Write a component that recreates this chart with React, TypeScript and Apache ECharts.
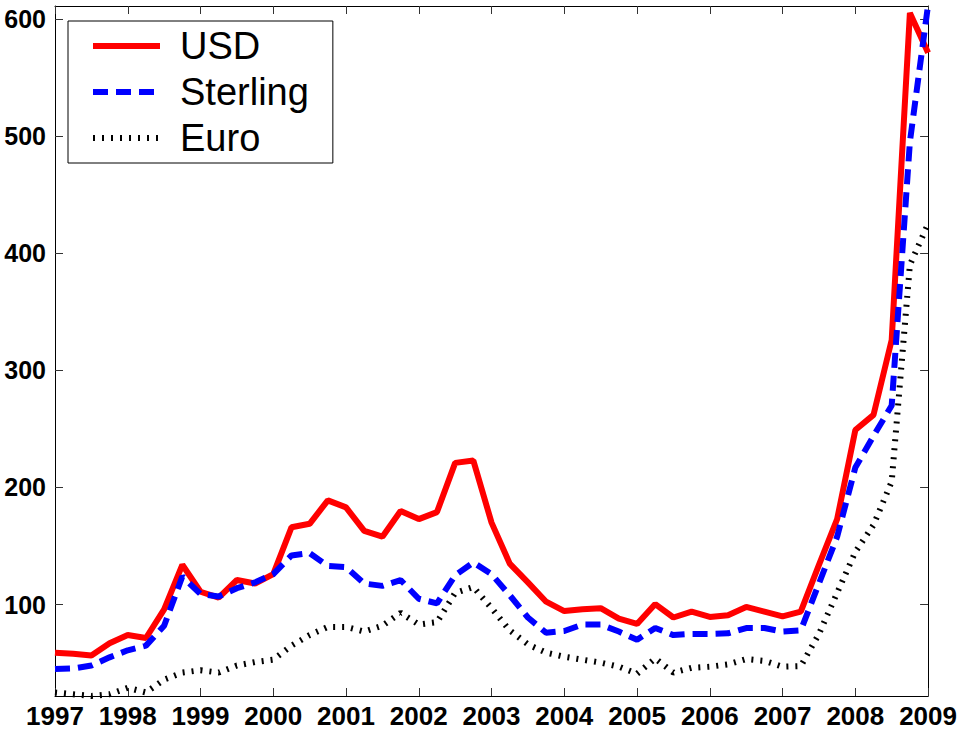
import React, { useEffect, useRef } from "react";
import * as echarts from "echarts";

const startYear = 1997;
const stepsPerYear = 4;

const usd = [
  59, 58, 56.5, 67, 74, 71.5, 96, 134,
  111, 106, 121, 118, 126, 166, 169, 189,
  183, 163, 158, 180, 173, 179, 221, 223,
  170, 135, 119, 102.5, 94.5, 96, 97, 88,
  83.5, 100.5, 89, 94, 89.5, 91, 98, 94,
  90, 94, 134, 173, 249, 262, 326, 605,
  571,
];

const sterling = [
  45, 45.5, 48, 55, 61, 65, 82, 124,
  109, 107, 114, 119, 126, 142, 144, 133,
  132, 118, 116, 121, 105, 101, 125, 136,
  126, 108, 89, 76, 77.5, 83, 83, 77,
  70, 80, 74, 75, 75, 75.5, 80, 80,
  77, 78, 118, 158, 217, 244, 270, 495,
  612,
];

const euro = [
  25, 23.5, 22, 23.5, 29, 25, 36, 42,
  44, 42, 48, 51, 53, 65, 74, 81,
  81, 77, 82, 93, 83, 85, 110, 115,
  97, 78, 66, 59, 55.5, 53, 50.5, 47,
  41, 54, 42, 46, 47, 49, 53.5, 52,
  47, 47.5, 75, 110, 145, 168, 205, 390,
  425,
];

const yearMin = 1997;
const yearMax = 2009;
const valueMin = 22;
const valueMax = 611;
const valueTicks = [100, 200, 300, 400, 500, 600];

const FONT = "'Liberation Sans', Arial, Helvetica, sans-serif";

function toPairs(vals: number[]) {
  return vals.map((v, i) => [startYear + i / stepsPerYear, v]);
}

export default function App() {
  const ref = useRef<HTMLDivElement>(null);

  useEffect(() => {
    if (!ref.current) return;
    const chart = echarts.init(ref.current, undefined, { renderer: "svg" });

    const axisLine = { show: true, onZero: false, lineStyle: { color: "#000", width: 1 } };
    const tickStyle = { color: "#333", width: 1 };

    const option = {
      animation: false,
      backgroundColor: "#fff",
      grid: { left: 55, right: 31, top: 6, bottom: 36, containLabel: false },
      legend: {
        orient: "vertical",
        left: 68,
        top: 21,
        padding: [6, 24, 6, 22],
        itemGap: 8,
        itemWidth: 67,
        itemHeight: 14,
        borderColor: "#000",
        borderWidth: 1,
        backgroundColor: "#fff",
        itemStyle: { opacity: 0, borderWidth: 0 },
        lineStyle: { width: 6 },
        textStyle: {
          fontSize: 38,
          lineHeight: 38,
          color: "#000",
          fontFamily: FONT,
          padding: [0, 0, 0, 15],
        },
        data: ["USD", "Sterling", "Euro"],
      },
      xAxis: [
        {
          type: "value",
          min: yearMin,
          max: yearMax,
          interval: 1,
          position: "bottom",
          axisLine,
          axisTick: { show: true, inside: true, length: 8, lineStyle: tickStyle },
          axisLabel: {
            show: true,
            fontSize: 26,
            fontWeight: "bold",
            color: "#000",
            fontFamily: FONT,
            margin: 7,
            formatter: (v: number) => String(v),
          },
          splitLine: { show: false },
        },
        {
          type: "value",
          min: yearMin,
          max: yearMax,
          interval: 1,
          position: "top",
          axisLine,
          axisTick: { show: true, inside: true, length: 8, lineStyle: tickStyle },
          axisLabel: { show: false },
          splitLine: { show: false },
        },
      ],
      yAxis: [
        {
          type: "value",
          min: valueMin,
          max: valueMax,
          position: "left",
          axisLine,
          axisTick: { show: true, inside: true, length: 8, lineStyle: tickStyle, customValues: valueTicks },
          axisLabel: {
            show: true,
            fontSize: 25,
            fontWeight: "bold",
            color: "#000",
            fontFamily: FONT,
            margin: 9,
            customValues: valueTicks,
            formatter: (v: number) => String(v),
          },
          splitLine: { show: false },
        },
        {
          type: "value",
          min: valueMin,
          max: valueMax,
          position: "right",
          axisLine,
          axisTick: { show: true, inside: true, length: 8, lineStyle: tickStyle, customValues: valueTicks },
          axisLabel: { show: false, customValues: valueTicks },
          splitLine: { show: false },
        },
      ],
      series: [
        {
          name: "USD",
          type: "line",
          xAxisIndex: 0,
          yAxisIndex: 0,
          data: toPairs(usd),
          symbol: "none",
          showSymbol: false,
          clip: true,
          lineStyle: { color: "#ff0000", width: 6, type: "solid" },
          itemStyle: { color: "#ff0000" },
          z: 3,
        },
        {
          name: "Sterling",
          type: "line",
          xAxisIndex: 0,
          yAxisIndex: 0,
          data: toPairs(sterling),
          symbol: "none",
          showSymbol: false,
          clip: true,
          lineStyle: { color: "#0000ff", width: 6, type: [15, 8] },
          itemStyle: { color: "#0000ff" },
          z: 4,
        },
        {
          name: "Euro",
          type: "line",
          xAxisIndex: 0,
          yAxisIndex: 0,
          data: toPairs(euro),
          symbol: "none",
          showSymbol: false,
          clip: true,
          lineStyle: { color: "#000000", width: 6, type: [2, 7] },
          itemStyle: { color: "#000000" },
          z: 2,
        },
      ],
    };

    chart.setOption(option as any);
    return () => chart.dispose();
  }, []);

  return (
    <div
      ref={ref}
      style={{ position: "absolute", left: 0, top: 0, width: 960, height: 732, background: "#fff" }}
    />
  );
}
